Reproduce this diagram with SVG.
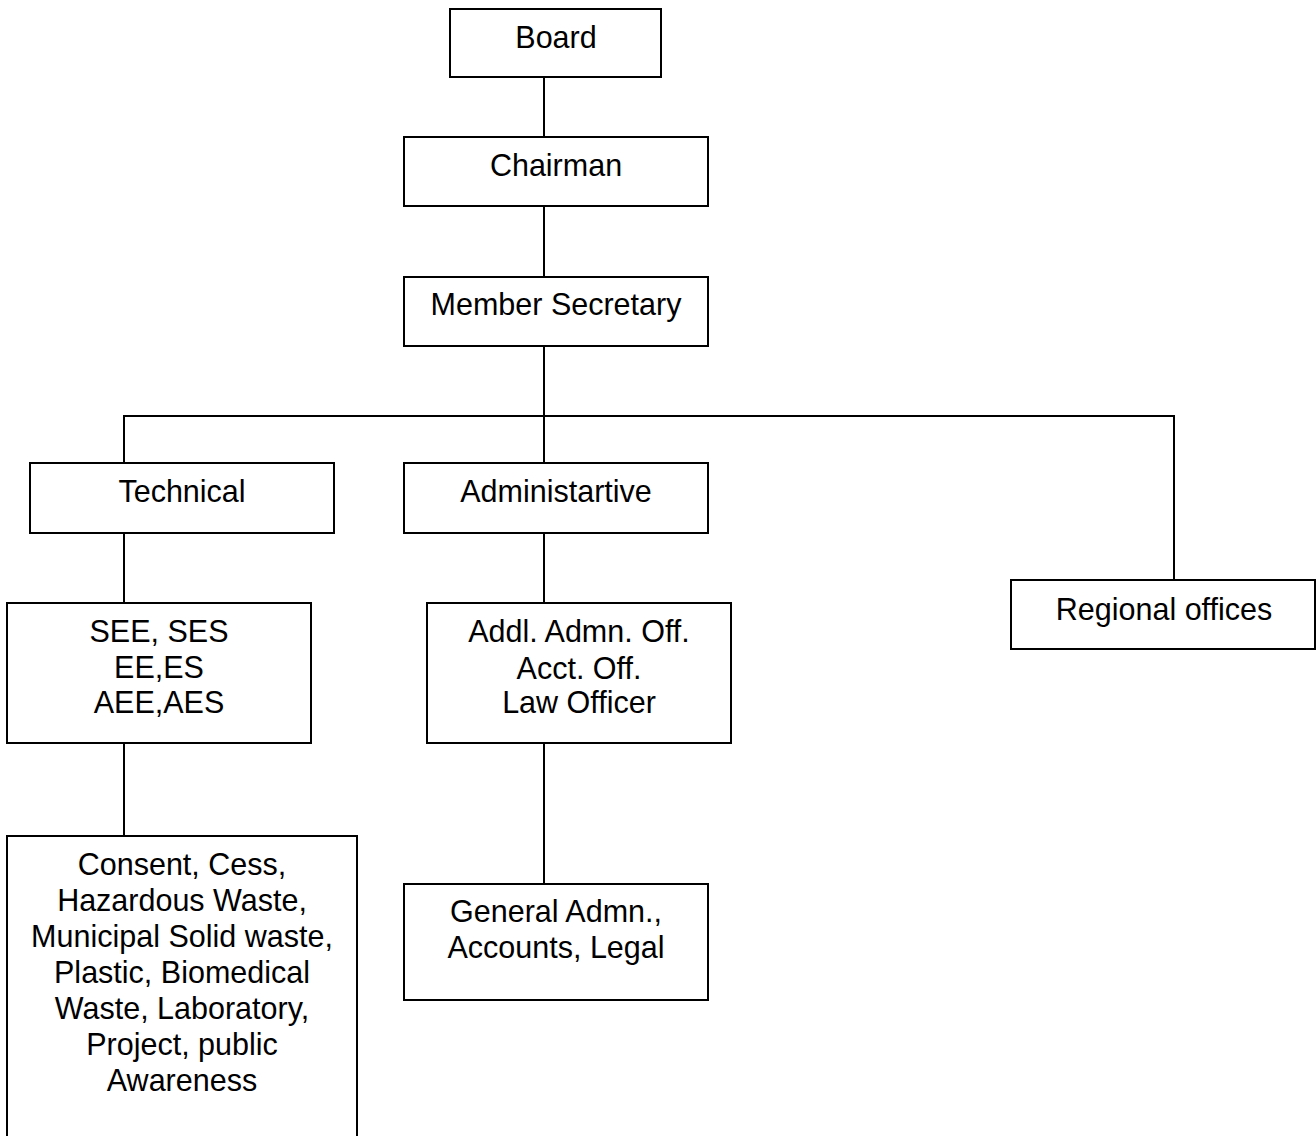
<svg xmlns="http://www.w3.org/2000/svg" width="1316" height="1136" viewBox="0 0 1316 1136">
<style>
.box{fill:#fff;stroke:#000;stroke-width:2}
.ln{fill:none;stroke:#000;stroke-width:2}
text{font-family:"Liberation Sans",Arial,sans-serif;font-size:30.5px;fill:#000;text-anchor:middle}
</style>
<rect width="1316" height="1136" fill="#fff"/>
<g id="connectors">
<line class="ln" x1="544" y1="77" x2="544" y2="137"/>
<line class="ln" x1="544" y1="206" x2="544" y2="277"/>
<line class="ln" x1="544" y1="346" x2="544" y2="463"/>
<polyline class="ln" points="124,463 124,416 1174,416 1174,580"/>
<line class="ln" x1="124" y1="533" x2="124" y2="603"/>
<line class="ln" x1="124" y1="743" x2="124" y2="836"/>
<line class="ln" x1="544" y1="533" x2="544" y2="603"/>
<line class="ln" x1="544" y1="743" x2="544" y2="884"/>
</g>
<g id="board"><rect class="box" x="450" y="9" width="211" height="68"/><text x="556" y="48">Board</text></g>
<g id="chairman"><rect class="box" x="404" y="137" width="304" height="69"/><text x="556" y="176">Chairman</text></g>
<g id="member-secretary"><rect class="box" x="404" y="277" width="304" height="69"/><text x="556" y="315">Member Secretary</text></g>
<g id="technical"><rect class="box" x="30" y="463" width="304" height="70"/><text x="182" y="502">Technical</text></g>
<g id="administrative"><rect class="box" x="404" y="463" width="304" height="70"/><text x="556" y="502">Administartive</text></g>
<g id="regional"><rect class="box" x="1011" y="580" width="304" height="69"/><text x="1164" y="620">Regional offices</text></g>
<g id="tech-officers"><rect class="box" x="7" y="603" width="304" height="140"/>
<text x="159" y="642">SEE, SES</text><text x="159" y="678">EE,ES</text><text x="159" y="713">AEE,AES</text></g>
<g id="admin-officers"><rect class="box" x="427" y="603" width="304" height="140"/>
<text x="579" y="642">Addl. Admn. Off.</text><text x="579" y="679">Acct. Off.</text><text x="579" y="713">Law Officer</text></g>
<g id="tech-functions"><rect class="box" x="7" y="836" width="350" height="310"/>
<text x="182" y="875">Consent, Cess,</text><text x="182" y="911">Hazardous Waste,</text><text x="182" y="947">Municipal Solid waste,</text><text x="182" y="983">Plastic, Biomedical</text><text x="182" y="1019">Waste, Laboratory,</text><text x="182" y="1055">Project, public</text><text x="182" y="1091">Awareness</text></g>
<g id="admin-functions"><rect class="box" x="404" y="884" width="304" height="116"/>
<text x="556" y="922">General Admn.,</text><text x="556" y="958">Accounts, Legal</text></g>
</svg>
